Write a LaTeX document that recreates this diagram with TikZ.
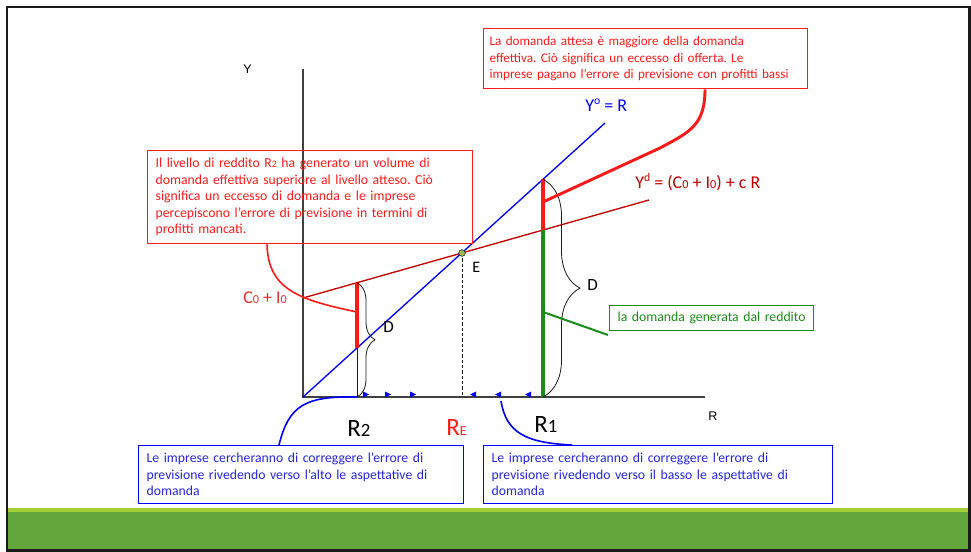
\documentclass[tikz,border=0pt]{standalone}
\usepackage{fontspec}
\setmainfont{Carlito}
\newfontfamily\arialfont{Liberation Sans}
\usepackage{graphicx}
\usetikzlibrary{arrows.meta,positioning,calc,decorations.pathreplacing}
\definecolor{ink}{HTML}{1A1A1A}
\definecolor{axisgray}{HTML}{404040}
\definecolor{alertred}{HTML}{FF1A1A}
\definecolor{curvered}{HTML}{C00000}
\definecolor{labred}{HTML}{E0302A}
\definecolor{lineblue}{HTML}{0000FF}
\definecolor{textblue}{HTML}{2525E0}
\definecolor{demgreen}{HTML}{1A8C1A}
\definecolor{dotgreen}{HTML}{9BBB59}
\definecolor{barlight}{HTML}{A6CE39}
\definecolor{bardark}{HTML}{63A53A}
\newcommand\sdig[2][0.72]{\scalebox{#1}{#2}}
\newcommand\supl[1]{\raisebox{0.42em}{\scalebox{0.65}{#1}}}
\tikzset{
  notebox/.style={draw,line width=1pt,anchor=north west,align=left,
                  inner xsep=6pt,inner ysep=0pt,
                  font=\fontsize{10.3}{12.4}\selectfont\frenchspacing},
  redbox/.style={notebox,draw=alertred,text=alertred},
  bluebox/.style={notebox,draw=lineblue,text=textblue},
  greenbox/.style={notebox,draw=demgreen,text=demgreen},
  lbl/.style={inner sep=0pt,anchor=base west,font=\fontsize{13.5}{16}\selectfont},
  biglbl/.style={lbl,font=\fontsize{18.7}{22}\selectfont},
  axlbl/.style={lbl,font=\arialfont\fontsize{9.4}{11}\selectfont},
  axisline/.style={draw=axisgray,line width=0.8pt},
  thinline/.style={line width=1pt},
  thickseg/.style={line width=2.4pt},
  guide/.style={draw=ink,line width=0.6pt},
  callout/.style={line width=1.2pt},
  dmbrace/.style={decorate,decoration={brace,amplitude=#1},line width=0.6pt,draw=ink}
}

\begin{document}
\begin{tikzpicture}[x=0.75pt,y=-0.75pt]
  \useasboundingbox (0,0) rectangle (971,552);
  % slide frame and footer bar
  \fill[barlight] (7,508) rectangle (969,512);
  \fill[bardark] (7,512) rectangle (969,550);
  \draw[ink,line width=2.2pt] (7,7) rectangle (969.5,550.5);
  % axes
  \coordinate (O) at (303,397);
  \coordinate (ytop) at (303,69);
  \coordinate (xend) at (705,397);
  \draw[axisline] (ytop) -- (O) -- (xend);
  \node[axlbl] (ylab) at (243,74) {Y};
  \node[axlbl] (xlab) at (708,420) {R};
  % the two lines
  \coordinate (yo) at (605,123);
  \coordinate (yd0) at (303,298);
  \coordinate (yd1) at (649,200);
  \draw[lineblue,thinline] (O) -- (yo);
  \draw[curvered,thinline] (yd0) -- (yd1);
  \coordinate (E) at (462,253);
  \coordinate (RE) at (462,397);
  \coordinate (a2) at (357,282.7);
  \coordinate (b2) at (357,348);
  \coordinate (r2) at (357,397);
  \coordinate (a1) at (543,179.3);
  \coordinate (b1) at (543,230);
  \coordinate (r1) at (543,397);
  \draw[guide,dash pattern=on 2.5pt off 1.5pt] (E) -- (RE);
  \draw[guide] (a2) -- (r2);
  \draw[alertred,thickseg] (a2) -- (b2);
  \draw[alertred,thickseg] (a1) -- (b1);
  \draw[demgreen,thickseg] (b1) -- (r1);
  \draw[dmbrace=13.5pt] (a2) -- (r2);
  \draw[dmbrace=27.75pt] (a1) -- (r1);
  \node[circle,draw=ink,fill=dotgreen,inner sep=0pt,minimum size=5pt,line width=0.4pt] (Edot) at (E) {};
  % adjustment markers
  \foreach \mx in {366,388,413}
    \fill[lineblue] (\mx-3,391.5) -- (\mx+3,394.5) -- (\mx-3,397.5) -- cycle;
  \foreach \mx in {473,498,528}
    \fill[lineblue] (\mx+3,391.5) -- (\mx-3,394.5) -- (\mx+3,397.5) -- cycle;
  % labels
  \node[lbl,text=lineblue] (yolab) at (585,112) {Y\supl{o} = R};
  \node[lbl,text=curvered] (ydlab) at (635,189) {Y\supl{d} = (C\sdig[0.68]{0} + I\sdig[0.68]{0}) + c R};
  \node[lbl,text=labred] (c0lab) at (243,304) {C\sdig[0.68]{0} + I\sdig[0.68]{0}};
  \node[lbl,font=\fontsize{12}{14}\selectfont] (elab) at (472,273) {E};
  \node[lbl,font=\fontsize{12.8}{15}\selectfont] (d2lab) at (383,332) {D};
  \node[lbl,font=\fontsize{12.8}{15}\selectfont] (d1lab) at (587,291) {D};
  \node[biglbl] (r2lab) at (347,436) {R\sdig[0.75]{2}};
  \node[biglbl,text=alertred] (relab) at (446,435) {R\sdig[0.55]{E}};
  \node[biglbl] (r1lab) at (534,432) {R\sdig[0.75]{1}};
  % comment boxes
  \node[redbox,text width=231.75pt,minimum height=69.75pt] (lbox) at (147,150)
    {Il livello di reddito R\sdig{2} ha generato un volume di\\
     domanda effettiva superiore al livello atteso. Ciò\\
     significa un eccesso di domanda e le imprese\\
     percepiscono l’errore di previsione in termini di\\
     profitti mancati.};
  \node[redbox,inner xsep=4.5pt,text width=234pt,minimum height=45pt,
        font=\fontsize{9.85}{12.4}\selectfont\frenchspacing] (rbox) at (483,28)
    {La domanda attesa è maggiore della domanda\\
     effettiva. Ciò significa un eccesso di offerta. Le\\
     imprese pagano l’errore di previsione con profitti bassi};
  \node[greenbox,text width=141pt,minimum height=18.75pt] (gbox) at (609,305)
    {la domanda generata dal reddito};
  \node[bluebox,text width=231.75pt,minimum height=43.5pt] (blbox) at (138,445)
    {Le imprese cercheranno di correggere l’errore di\\
     previsione rivedendo verso l’alto le aspettative di\\
     domanda};
  \node[bluebox,text width=249.75pt,minimum height=43.5pt] (brbox) at (483,445)
    {Le imprese cercheranno di correggere l’errore di\\
     previsione rivedendo verso il basso le aspettative di\\
     domanda};
  % callout curves
  \coordinate (m2) at (357,312);
  \coordinate (m1) at (543,202);
  \coordinate (gstart) at (543,312);
  \coordinate (gtail) at (608,335);
  \coordinate (rstart) at (501,401);
  \draw[alertred,callout] ($(lbox.south west)+(120,0)$) .. controls (268,290) and (300,300) .. (m2);
  \draw[alertred,line width=2.2pt] ($(rbox.south west)+(222,0)$) .. controls (705,125) and (690,132) .. (660,148) -- (m1);
  \draw[demgreen,line width=1.5pt] (gstart) -- (gtail);
  \draw[lineblue,callout] ($(blbox.north west)+(141,0)$) .. controls (289,405) and (305,396) .. (r2);
  \draw[lineblue,callout] (rstart) .. controls (506,432) and (525,443) .. ($(brbox.north west)+(89,0)$);
\end{tikzpicture}
\end{document}
